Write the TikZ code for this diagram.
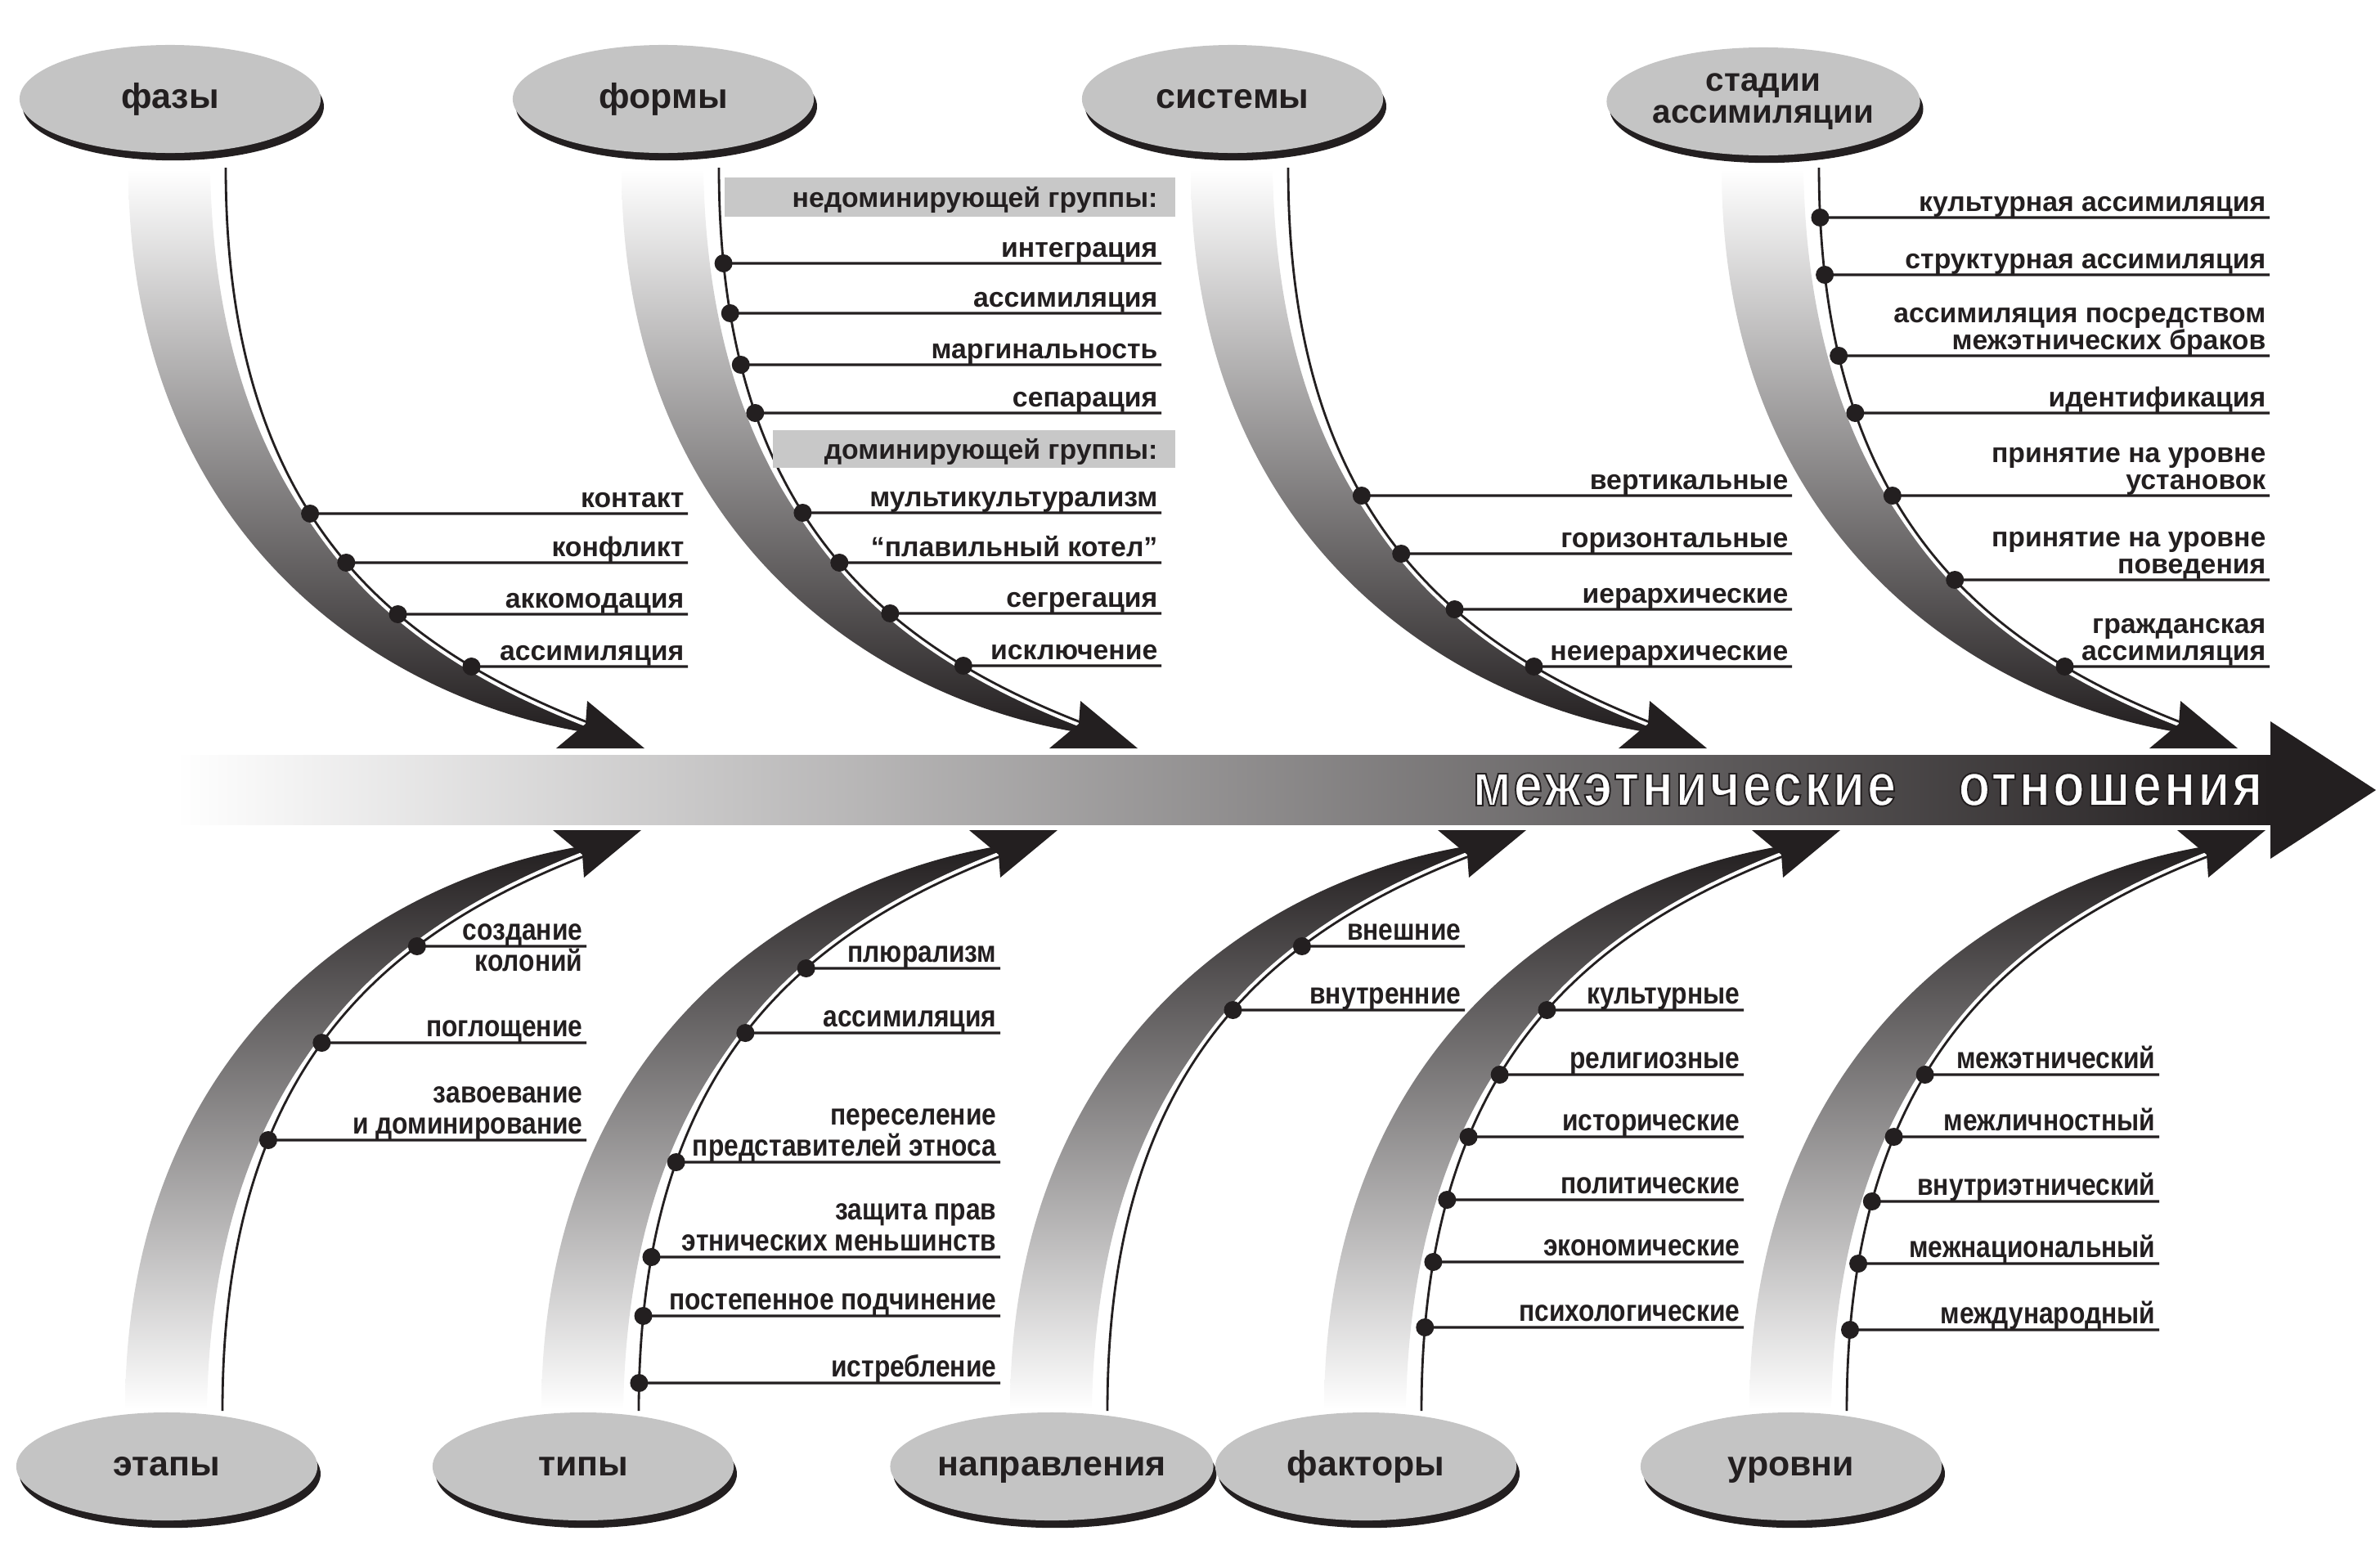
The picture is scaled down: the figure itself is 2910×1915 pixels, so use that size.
\documentclass[tikz,border=0pt]{standalone}
\usepackage{fontspec}
\setmainfont{Liberation Sans}
\newfontfamily\narrowfont[FakeStretch=0.86]{Liberation Sans}
\newfontfamily\bandfont[FakeStretch=0.86,LetterSpace=4]{Liberation Sans}
\usetikzlibrary{shapes.geometric,shadows,intersections,calc}
\definecolor{dark}{RGB}{35,31,32}
\definecolor{ellgray}{RGB}{196,196,196}
\definecolor{boxgray}{RGB}{200,200,200}

% white letters with a dark rim (fill + stroke text mode)
\newcommand{\outlined}[1]{%
  \special{pdf:literal direct 2 Tr 1 1 1 rg 0.137 0.122 0.125 RG 0.55 w}#1%
  \special{pdf:literal direct 0 Tr}}

% one row per item: dot on the spine, a twig to the right, label above it
\newcommand{\twigs}[4]{%
  \foreach \y/\txt [count=\i] in {#4} {
    \path[name path=row] (0,\y) -- (2910,\y);
    \path[name intersections={of=#1 and row, by=p}];
    \node[bead] (#1-d\i) at (p) {};
    \coordinate (#1-e\i) at (#2,\y);
    \draw[twig] (#1-d\i.center) -- (#1-e\i);
    \node[#3] (#1-l\i) at (#2-4,\y-7) {\txt};
  }}

\begin{document}
\begin{tikzpicture}[x=0.01cm,y=-0.01cm]
\tikzset{
  oval/.style={ellipse,fill=ellgray,minimum width=3.68cm,minimum height=1.32cm,
    inner sep=0pt,align=center,text=dark,font=\bfseries\fontsize{12.2}{12}\selectfont,
    text height=0.75em,text depth=0.08em,
    drop shadow={shadow xshift=1.1pt,shadow yshift=-2.6pt,fill=dark,opacity=1}},
  bead/.style={circle,fill=dark,inner sep=0pt,minimum size=2.2mm},
  spine/.style={draw=dark,line width=0.8pt},
  halo/.style={draw=white,line width=3.2pt},
  twig/.style={draw=dark,line width=0.9pt},
  toplab/.style={anchor=south east,inner sep=0pt,text depth=0pt,align=right,text=dark,
    font=\bfseries\fontsize{9.6}{9.4}\selectfont},
  botlab/.style={anchor=south east,inner sep=0pt,text depth=0pt,align=right,text=dark,
    font=\narrowfont\bfseries\fontsize{10.5}{10.8}\selectfont},
  bandtext/.style={inner sep=0pt,text=white,font=\bandfont\bfseries\fontsize{21}{21}\selectfont}
}
\useasboundingbox (0,0) rectangle (2910,1915);

% main arrow
\shade[left color=white,middle color=black!46,right color=dark]
  (215,923) rectangle (2776,1008);
\fill[dark] (2776,882) -- (2905,966) -- (2776,1050) -- cycle;

\def\ribbon{(-51,207) .. controls (-51,640) and (242,850) .. (505,895)
  -- (508,887) .. controls (262,788) and (56,615) .. (49,207) -- cycle}
\def\spinepath{(68,205) .. controls (68,620) and (260,785) .. (510,883)}
\def\head{(580,915) -- (510,857) -- (508,885) -- (472,915) -- cycle}

% upper branches
\foreach \nm/\cx in {phases/208,forms/811,systems/1507,stages/2156} {
\begin{scope}[shift={(\cx,0)}]
\shade[top color=white,bottom color=dark] \ribbon;
\draw[halo] \spinepath;
\draw[spine,name path global=\nm] \spinepath;
\fill[dark] \head;
\end{scope}
}

% lower branches, mirrored about the main arrow
\foreach \nm/\cx in {stages2/204,types/713,directions/1286,factors/1670,levels/2190} {
\begin{scope}[shift={(\cx,1930)},yscale=-1]
\shade[top color=dark,bottom color=white] \ribbon;
\draw[halo] \spinepath;
\draw[spine,name path global=\nm] \spinepath;
\fill[dark] \head;
\end{scope}
}

% group headers of "формы"
\fill[boxgray] (886,217) rectangle (1437,265);
\fill[boxgray] (945,526) rectangle (1437,572);
\node[toplab,anchor=east] (forms-h1) at (1416,241) {недоминирующей группы:};
\node[toplab,anchor=east] (forms-h2) at (1416,549) {доминирующей группы:};

\twigs{phases}{841}{toplab}{628/контакт,688/конфликт,751/аккомодация,815/ассимиляция}
\twigs{forms}{1420}{toplab}{322/интеграция,383/ассимиляция,446/маргинальность,
  505/сепарация,627/мультикультурализм,688/“плавильный котел”,750/сегрегация,814/исключение}
\twigs{systems}{2191}{toplab}{606/вертикальные,677/горизонтальные,745/иерархические,
  815/неиерархические}
\twigs{stages}{2775}{toplab}{266/культурная ассимиляция,336/структурная ассимиляция,
  435/ассимиляция посредством\\межэтнических браков,505/идентификация,
  606/принятие на уровне\\установок,709/принятие на уровне\\поведения,
  815/гражданская\\ассимиляция}

% first item of "этапы" sits across its twig
\path[name path=row] (0,1157) -- (2910,1157);
\path[name intersections={of=stages2 and row,by=p}];
\node[bead] (stages2-d0) at (p) {};
\coordinate (stages2-e0) at (717,1157);
\draw[twig] (stages2-d0.center) -- (stages2-e0);
\node[botlab] (stages2-l0) at (713,1188) {создание\\колоний};
\twigs{stages2}{717}{botlab}{1275/поглощение,1394/завоевание\\и доминирование}
\twigs{types}{1223}{botlab}{1184/плюрализм,1263/ассимиляция,
  1421/переселение\\представителей этноса,1537/защита прав\\этнических меньшинств,
  1609/постепенное подчинение,1691/истребление}
\twigs{directions}{1791}{botlab}{1157/внешние,1235/внутренние}
\twigs{factors}{2132}{botlab}{1235/культурные,1314/религиозные,1390/исторические,
  1467/политические,1543/экономические,1623/психологические}
\twigs{levels}{2640}{botlab}{1314/межэтнический,1390/межличностный,1469/внутриэтнический,
  1545/межнациональный,1626/международный}

% ovals
\node[oval] (phases) at (208,121) {фазы};
\node[oval] (forms) at (811,121) {формы};
\node[oval] (systems) at (1507,121) {системы};
\node[oval,text height={},text depth={},font=\bfseries\fontsize{11.5}{11.1}\selectfont]
  (stages) at (2156,124) {стадии\\ассимиляции};
\node[oval] (stages2) at (204,1793) {этапы};
\node[oval] (types) at (713,1793) {типы};
\node[oval] (directions) at (1286,1793) {направления};
\node[oval] (factors) at (1670,1793) {факторы};
\node[oval] (levels) at (2190,1793) {уровни};

\node[bandtext,anchor=base west] (rel1) at (1800,985) {\outlined{межэтнические}};
\node[bandtext,anchor=base east] (rel2) at (2767,985) {\outlined{отношения}};
\end{tikzpicture}
\end{document}
